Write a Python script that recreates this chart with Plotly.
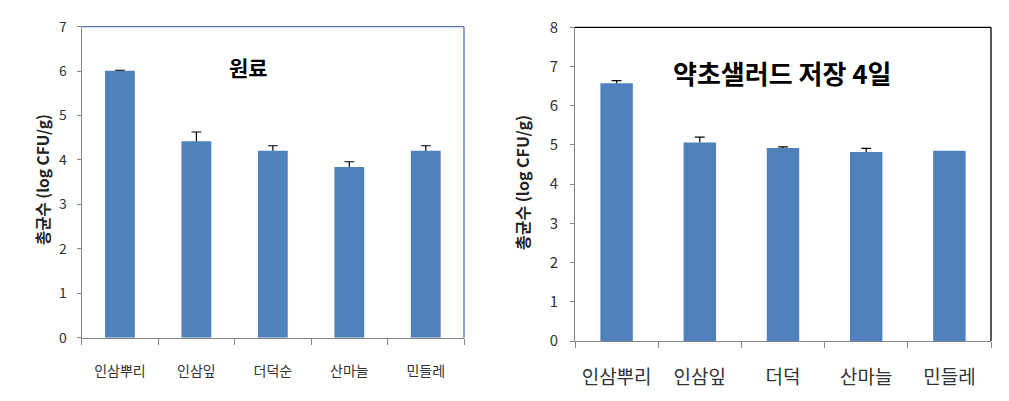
import plotly.graph_objects as go
from plotly.subplots import make_subplots

cats_left = ["인삼뿌리", "인삼잎", "더덕순", "산마늘", "민들레"]
vals_left = [6.01, 4.42, 4.21, 3.84, 4.21]
err_left = [0.01, 0.21, 0.11, 0.12, 0.11]

cats_right = ["인삼뿌리", "인삼잎", "더덕", "산마늘", "민들레"]
vals_right = [6.57, 5.06, 4.92, 4.82, 4.85]
err_right = [0.07, 0.14, 0.03, 0.09, 0.0]

title_left = "원료"
title_right = "약초샐러드 저장 4일"
ytitle = "총균수 (log CFU/g)"

KR = "Noto Sans CJK KR"
BAR = "#4F81BD"

# page body has an 8px default margin; figure sized to fit the window
W, H, OFF = 1001, 393, 8


def px(sx):
    return (sx - OFF) / W


def py(sy):
    return 1 - (sy - OFF) / H


fig = make_subplots(rows=1, cols=2)


def add_series(cats, vals, errs, col):
    fig.add_trace(go.Bar(
        x=cats, y=vals, marker=dict(color=BAR, line=dict(width=0)), width=0.39,
        error_y=dict(type="data", array=errs, arrayminus=[0] * len(errs), symmetric=False,
                     color="black", thickness=1.2, width=0),
        showlegend=False, hoverinfo="skip"), row=1, col=col)
    tops = [v + e for v, e in zip(vals, errs) if e > 0]
    tcats = [c for c, e in zip(cats, errs) if e > 0]
    fig.add_trace(go.Scatter(
        x=tcats, y=tops, mode="markers",
        marker=dict(symbol="line-ew", size=7, line=dict(color="black", width=1.2)),
        showlegend=False, hoverinfo="skip"), row=1, col=col)


add_series(cats_left, vals_left, err_left, 1)
add_series(cats_right, vals_right, err_right, 2)

axis_common = dict(showline=True, linecolor="#868686", linewidth=1, showgrid=False,
                   zeroline=False, automargin=False, tickcolor="#868686")

fig.update_layout(
    width=W, height=H,
    margin=dict(l=0, r=0, t=0, b=0),
    paper_bgcolor="white", plot_bgcolor="white",
    font=dict(family=KR, color="#222222"),
    xaxis=dict(domain=[px(81.7), px(464)], anchor="y", ticks="outside", tickson="boundaries", ticklen=6,
               ticklabelstandoff=20,
               tickfont=dict(size=14, family=KR, color="#333333"), **axis_common),
    yaxis=dict(domain=[py(337.7), py(26.7)], anchor="x", range=[0, 7], dtick=1, ticks="outside", ticklen=4,
               ticklabelstandoff=7,
               tickfont=dict(size=14, family=KR, color="#333333"), **axis_common),
    xaxis2=dict(domain=[px(575), px(991)], anchor="y2", ticks="outside", tickson="boundaries", ticklen=6,
                ticklabelstandoff=19,
                tickfont=dict(size=19, family=KR, color="#333333"), **axis_common),
    yaxis2=dict(domain=[py(341), py(27.3)], anchor="x2", range=[0, 8], dtick=1, ticks="outside", ticklen=4,
                ticklabelstandoff=9,
                tickfont=dict(size=15, family=KR, color="#333333"), **axis_common),
)

# frame lines (top and right)
for xr, yr, col in [("x domain", "y domain", "#5B6FB4"), ("x2 domain", "y2 domain", "black")]:
    fig.add_shape(type="line", xref=xr, yref=yr, x0=0, x1=1, y0=1, y1=1, line=dict(color=col, width=1.3))
    fig.add_shape(type="line", xref=xr, yref=yr, x0=1, x1=1, y0=0, y1=1, line=dict(color=col, width=1.3))

# titles
fig.add_annotation(text=title_left, xref="paper", yref="paper", x=px(248), y=py(67),
                   xanchor="center", yanchor="middle",
                   showarrow=False, font=dict(size=21, family=KR, color="black", weight="bold"))
fig.add_annotation(text=title_right, xref="paper", yref="paper", x=px(782), y=py(72),
                   xanchor="center", yanchor="middle",
                   showarrow=False, font=dict(size=26, family=KR, color="black", weight="bold"))

# y axis titles
fig.add_annotation(text=ytitle, xref="paper", yref="paper", x=px(42), y=py(180), textangle=-90,
                   xanchor="center", yanchor="middle",
                   showarrow=False, font=dict(size=15.5, family=KR, color="#222222", weight="bold"))
fig.add_annotation(text=ytitle, xref="paper", yref="paper", x=px(522), y=py(183), textangle=-90,
                   xanchor="center", yanchor="middle",
                   showarrow=False, font=dict(size=16, family=KR, color="#222222", weight="bold"))

fig.write_html("out.html")
